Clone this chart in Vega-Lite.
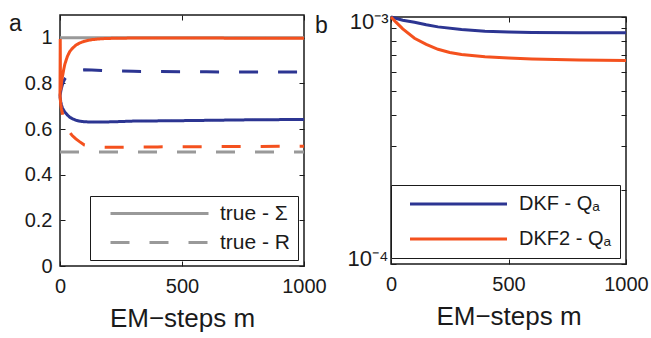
{
  "$schema": "https://vega.github.io/schema/vega-lite/v6.json",
  "background": "white",
  "padding": {"left": 8, "top": 9, "right": 0, "bottom": 0},
  "config": {
    "font": "Liberation Sans",
    "view": {"stroke": "#1a1a1a", "strokeWidth": 1.5},
    "axis": {"domain": false, "grid": false, "tickSize": -5, "tickColor": "#1a1a1a", "tickWidth": 1, "labelFont": "Liberation Sans", "labelFontSize": 20, "labelColor": "#1a1a1a", "titleFont": "Liberation Sans", "titleFontSize": 26, "titleFontWeight": "normal", "titleColor": "#1a1a1a"},
    "title": {"font": "Liberation Sans", "fontSize": 23, "fontWeight": "normal", "color": "#1a1a1a"}
  },
  "bounds": "flush",
  "spacing": 87,
  "center": true,
  "resolve": {"scale": {"color": "independent", "strokeDash": "independent"}, "legend": {"color": "independent", "strokeDash": "independent"}},
  "hconcat": [
    {
      "width": 244,
      "height": 251,
      "title": {"text": "a", "anchor": "start", "frame": "group", "dx": -51, "offset": -39, "baseline": "alphabetic"},
      "layer": [
        {
          "data": {"values": [
            {"m": 0, "value": 1, "label": "true - Σ"},
            {"m": 1000, "value": 1, "label": "true - Σ"},
            {"m": 0, "value": 0.5, "label": "true - R"},
            {"m": 1000, "value": 0.5, "label": "true - R"}
          ]},
          "mark": {"type": "line", "strokeWidth": 3, "color": "#999999"},
          "encoding": {
            "x": {"field": "m", "type": "quantitative", "scale": {"domain": [0, 1000]}, "axis": {"orient": "top", "values": [0, 500, 1000], "labels": false, "title": null}},
            "y": {"field": "value", "type": "quantitative", "scale": {"domain": [0, 1.1]}, "axis": {"orient": "right", "values": [0, 0.2, 0.4, 0.6, 0.8, 1], "labels": false, "title": null}},
            "strokeDash": {"field": "label", "type": "nominal", "scale": {"domain": ["true - Σ", "true - R"], "range": [[1, 0], [19, 20]]},
              "legend": {"orient": "bottom-right", "offset": 6, "title": null, "symbolType": "M0,0H19.6", "symbolSize": 100, "symbolStrokeColor": "#999999", "symbolFillColor": "transparent", "symbolStrokeWidth": 3, "symbolOffset": 3, "labelFontSize": 21, "labelOffset": 99, "padding": 7, "rowPadding": 7, "strokeColor": "#1a1a1a", "fillColor": "white", "labelColor": "#1a1a1a"}}
          }
        },
        {
          "data": {"values": [
            {"m": 0, "value": 0.745, "series": "a_blue"},
            {"m": 3, "value": 0.72, "series": "a_blue"},
            {"m": 6, "value": 0.705, "series": "a_blue"},
            {"m": 10, "value": 0.693, "series": "a_blue"},
            {"m": 15, "value": 0.683, "series": "a_blue"},
            {"m": 20, "value": 0.674, "series": "a_blue"},
            {"m": 30, "value": 0.662, "series": "a_blue"},
            {"m": 40, "value": 0.652, "series": "a_blue"},
            {"m": 50, "value": 0.646, "series": "a_blue"},
            {"m": 65, "value": 0.639, "series": "a_blue"},
            {"m": 80, "value": 0.635, "series": "a_blue"},
            {"m": 100, "value": 0.632, "series": "a_blue"},
            {"m": 130, "value": 0.631, "series": "a_blue"},
            {"m": 170, "value": 0.631, "series": "a_blue"},
            {"m": 220, "value": 0.632, "series": "a_blue"},
            {"m": 300, "value": 0.635, "series": "a_blue"},
            {"m": 400, "value": 0.636, "series": "a_blue"},
            {"m": 500, "value": 0.637, "series": "a_blue"},
            {"m": 650, "value": 0.639, "series": "a_blue"},
            {"m": 800, "value": 0.641, "series": "a_blue"},
            {"m": 1000, "value": 0.642, "series": "a_blue"},
            {"m": 0, "value": 0.745, "series": "b_blue_dash"},
            {"m": 3, "value": 0.765, "series": "b_blue_dash"},
            {"m": 6, "value": 0.78, "series": "b_blue_dash"},
            {"m": 10, "value": 0.795, "series": "b_blue_dash"},
            {"m": 15, "value": 0.81, "series": "b_blue_dash"},
            {"m": 20, "value": 0.82, "series": "b_blue_dash"},
            {"m": 30, "value": 0.833, "series": "b_blue_dash"},
            {"m": 40, "value": 0.842, "series": "b_blue_dash"},
            {"m": 50, "value": 0.848, "series": "b_blue_dash"},
            {"m": 65, "value": 0.854, "series": "b_blue_dash"},
            {"m": 80, "value": 0.858, "series": "b_blue_dash"},
            {"m": 100, "value": 0.86, "series": "b_blue_dash"},
            {"m": 130, "value": 0.859, "series": "b_blue_dash"},
            {"m": 170, "value": 0.857, "series": "b_blue_dash"},
            {"m": 220, "value": 0.855, "series": "b_blue_dash"},
            {"m": 300, "value": 0.853, "series": "b_blue_dash"},
            {"m": 400, "value": 0.852, "series": "b_blue_dash"},
            {"m": 600, "value": 0.851, "series": "b_blue_dash"},
            {"m": 800, "value": 0.85, "series": "b_blue_dash"},
            {"m": 1000, "value": 0.85, "series": "b_blue_dash"},
            {"m": 0, "value": 0.745, "series": "c_orange"},
            {"m": 1, "value": 0.995, "series": "c_orange"},
            {"m": 2, "value": 0.77, "series": "c_orange"},
            {"m": 4, "value": 0.78, "series": "c_orange"},
            {"m": 7, "value": 0.81, "series": "c_orange"},
            {"m": 10, "value": 0.83, "series": "c_orange"},
            {"m": 15, "value": 0.86, "series": "c_orange"},
            {"m": 20, "value": 0.885, "series": "c_orange"},
            {"m": 30, "value": 0.918, "series": "c_orange"},
            {"m": 40, "value": 0.94, "series": "c_orange"},
            {"m": 50, "value": 0.953, "series": "c_orange"},
            {"m": 65, "value": 0.968, "series": "c_orange"},
            {"m": 80, "value": 0.977, "series": "c_orange"},
            {"m": 100, "value": 0.985, "series": "c_orange"},
            {"m": 130, "value": 0.992, "series": "c_orange"},
            {"m": 170, "value": 0.996, "series": "c_orange"},
            {"m": 220, "value": 0.998, "series": "c_orange"},
            {"m": 300, "value": 0.999, "series": "c_orange"},
            {"m": 500, "value": 0.999, "series": "c_orange"},
            {"m": 1000, "value": 0.998, "series": "c_orange"},
            {"m": 0, "value": 0.745, "series": "d_orange_dash"},
            {"m": 3, "value": 0.71, "series": "d_orange_dash"},
            {"m": 6, "value": 0.688, "series": "d_orange_dash"},
            {"m": 10, "value": 0.668, "series": "d_orange_dash"},
            {"m": 15, "value": 0.645, "series": "d_orange_dash"},
            {"m": 20, "value": 0.627, "series": "d_orange_dash"},
            {"m": 30, "value": 0.603, "series": "d_orange_dash"},
            {"m": 40, "value": 0.585, "series": "d_orange_dash"},
            {"m": 50, "value": 0.572, "series": "d_orange_dash"},
            {"m": 65, "value": 0.557, "series": "d_orange_dash"},
            {"m": 80, "value": 0.545, "series": "d_orange_dash"},
            {"m": 100, "value": 0.53, "series": "d_orange_dash"},
            {"m": 130, "value": 0.525, "series": "d_orange_dash"},
            {"m": 170, "value": 0.521, "series": "d_orange_dash"},
            {"m": 220, "value": 0.52, "series": "d_orange_dash"},
            {"m": 300, "value": 0.521, "series": "d_orange_dash"},
            {"m": 400, "value": 0.522, "series": "d_orange_dash"},
            {"m": 600, "value": 0.523, "series": "d_orange_dash"},
            {"m": 800, "value": 0.524, "series": "d_orange_dash"},
            {"m": 1000, "value": 0.525, "series": "d_orange_dash"}
          ]},
          "mark": {"type": "line", "strokeWidth": 3},
          "encoding": {
            "x": {"field": "m", "type": "quantitative", "scale": {"domain": [0, 1000]}, "axis": {"values": [0, 500, 1000], "format": "d", "labelFlush": false, "title": "EM−steps m", "labelPadding": 15, "titlePadding": 9}},
            "y": {"field": "value", "type": "quantitative", "scale": {"domain": [0, 1.1]}, "axis": {"values": [0, 0.2, 0.4, 0.6, 0.8, 1], "format": "~g", "title": null, "labelPadding": 13}},
            "color": {"field": "series", "type": "nominal", "scale": {"domain": ["a_blue", "b_blue_dash", "c_orange", "d_orange_dash"], "range": ["#2c3592", "#2c3592", "#f4511e", "#f4511e"]}, "legend": null},
            "strokeDash": {"field": "series", "type": "nominal", "scale": {"domain": ["a_blue", "b_blue_dash", "c_orange", "d_orange_dash"], "range": [[1, 0], [19, 20], [1, 0], [19, 20]]}, "legend": null}
          }
        }
      ],
      "resolve": {"scale": {"strokeDash": "independent", "color": "independent"}, "axis": {"x": "independent", "y": "independent"}}
    },
    {
      "width": 235,
      "height": 247,
      "title": {"text": "b", "anchor": "start", "frame": "group", "dx": -76, "offset": -46, "baseline": "alphabetic"},
      "data": {"values": [
        {"m": 0, "value": 0.001, "series": "DKF - Qₐ"},
        {"m": 20, "value": 0.000988, "series": "DKF - Qₐ"},
        {"m": 50, "value": 0.00097, "series": "DKF - Qₐ"},
        {"m": 100, "value": 0.000952, "series": "DKF - Qₐ"},
        {"m": 150, "value": 0.00093, "series": "DKF - Qₐ"},
        {"m": 200, "value": 0.000912, "series": "DKF - Qₐ"},
        {"m": 300, "value": 0.00089, "series": "DKF - Qₐ"},
        {"m": 400, "value": 0.000875, "series": "DKF - Qₐ"},
        {"m": 500, "value": 0.00087, "series": "DKF - Qₐ"},
        {"m": 600, "value": 0.000866, "series": "DKF - Qₐ"},
        {"m": 800, "value": 0.000864, "series": "DKF - Qₐ"},
        {"m": 1000, "value": 0.000863, "series": "DKF - Qₐ"},
        {"m": 0, "value": 0.001, "series": "DKF2 - Qₐ"},
        {"m": 20, "value": 0.000955, "series": "DKF2 - Qₐ"},
        {"m": 50, "value": 0.000895, "series": "DKF2 - Qₐ"},
        {"m": 100, "value": 0.00082, "series": "DKF2 - Qₐ"},
        {"m": 150, "value": 0.000775, "series": "DKF2 - Qₐ"},
        {"m": 200, "value": 0.00074, "series": "DKF2 - Qₐ"},
        {"m": 250, "value": 0.000718, "series": "DKF2 - Qₐ"},
        {"m": 300, "value": 0.000705, "series": "DKF2 - Qₐ"},
        {"m": 400, "value": 0.00069, "series": "DKF2 - Qₐ"},
        {"m": 500, "value": 0.000682, "series": "DKF2 - Qₐ"},
        {"m": 600, "value": 0.000676, "series": "DKF2 - Qₐ"},
        {"m": 800, "value": 0.00067, "series": "DKF2 - Qₐ"},
        {"m": 1000, "value": 0.000667, "series": "DKF2 - Qₐ"}
      ]},
      "layer": [
        {
          "mark": {"type": "line", "opacity": 0},
          "encoding": {
            "x": {"field": "m", "type": "quantitative", "scale": {"domain": [0, 1000]}, "axis": {"orient": "top", "values": [0, 500, 1000], "labels": false, "title": null}},
            "y": {"field": "value", "type": "quantitative", "scale": {"type": "log", "domain": [0.0001, 0.001]}, "axis": {"orient": "right", "values": [0.0001, 0.0002, 0.0003, 0.0004, 0.0005, 0.0006, 0.0007, 0.0008, 0.0009, 0.001], "labels": false, "title": null}},
            "detail": {"field": "series", "type": "nominal"}
          }
        },
        {
          "mark": {"type": "line", "strokeWidth": 3},
          "encoding": {
            "x": {"field": "m", "type": "quantitative", "scale": {"domain": [0, 1000]}, "axis": {"values": [0, 500, 1000], "format": "d", "labelFlush": false, "title": "EM−steps m", "labelPadding": 15, "titlePadding": 9}},
            "y": {"field": "value", "type": "quantitative", "scale": {"type": "log", "domain": [0.0001, 0.001]}, "axis": {"values": [0.0001, 0.0002, 0.0003, 0.0004, 0.0005, 0.0006, 0.0007, 0.0008, 0.0009, 0.001], "labelExpr": "datum.value >= 0.00099 ? '10⁻³' : (datum.value <= 0.000101 ? '10⁻⁴' : '')", "labelFlush": true, "labelFlushOffset": 6, "labelFontSize": 22, "title": null, "labelPadding": 8}},
            "color": {"field": "series", "type": "nominal", "scale": {"domain": ["DKF - Qₐ", "DKF2 - Qₐ"], "range": ["#2c3592", "#f4511e"]},
              "legend": {"orient": "bottom-right", "offset": 6, "title": null, "symbolType": "M0,0H19.4", "symbolSize": 100, "symbolFillColor": "transparent", "symbolStrokeWidth": 3, "symbolOffset": 0, "labelFontSize": 20, "labelOffset": 99, "padding": 9, "rowPadding": 15, "strokeColor": "#1a1a1a", "fillColor": "white", "labelColor": "#1a1a1a"}}
          }
        }
      ],
      "resolve": {"axis": {"x": "independent", "y": "independent"}}
    }
  ]
}
